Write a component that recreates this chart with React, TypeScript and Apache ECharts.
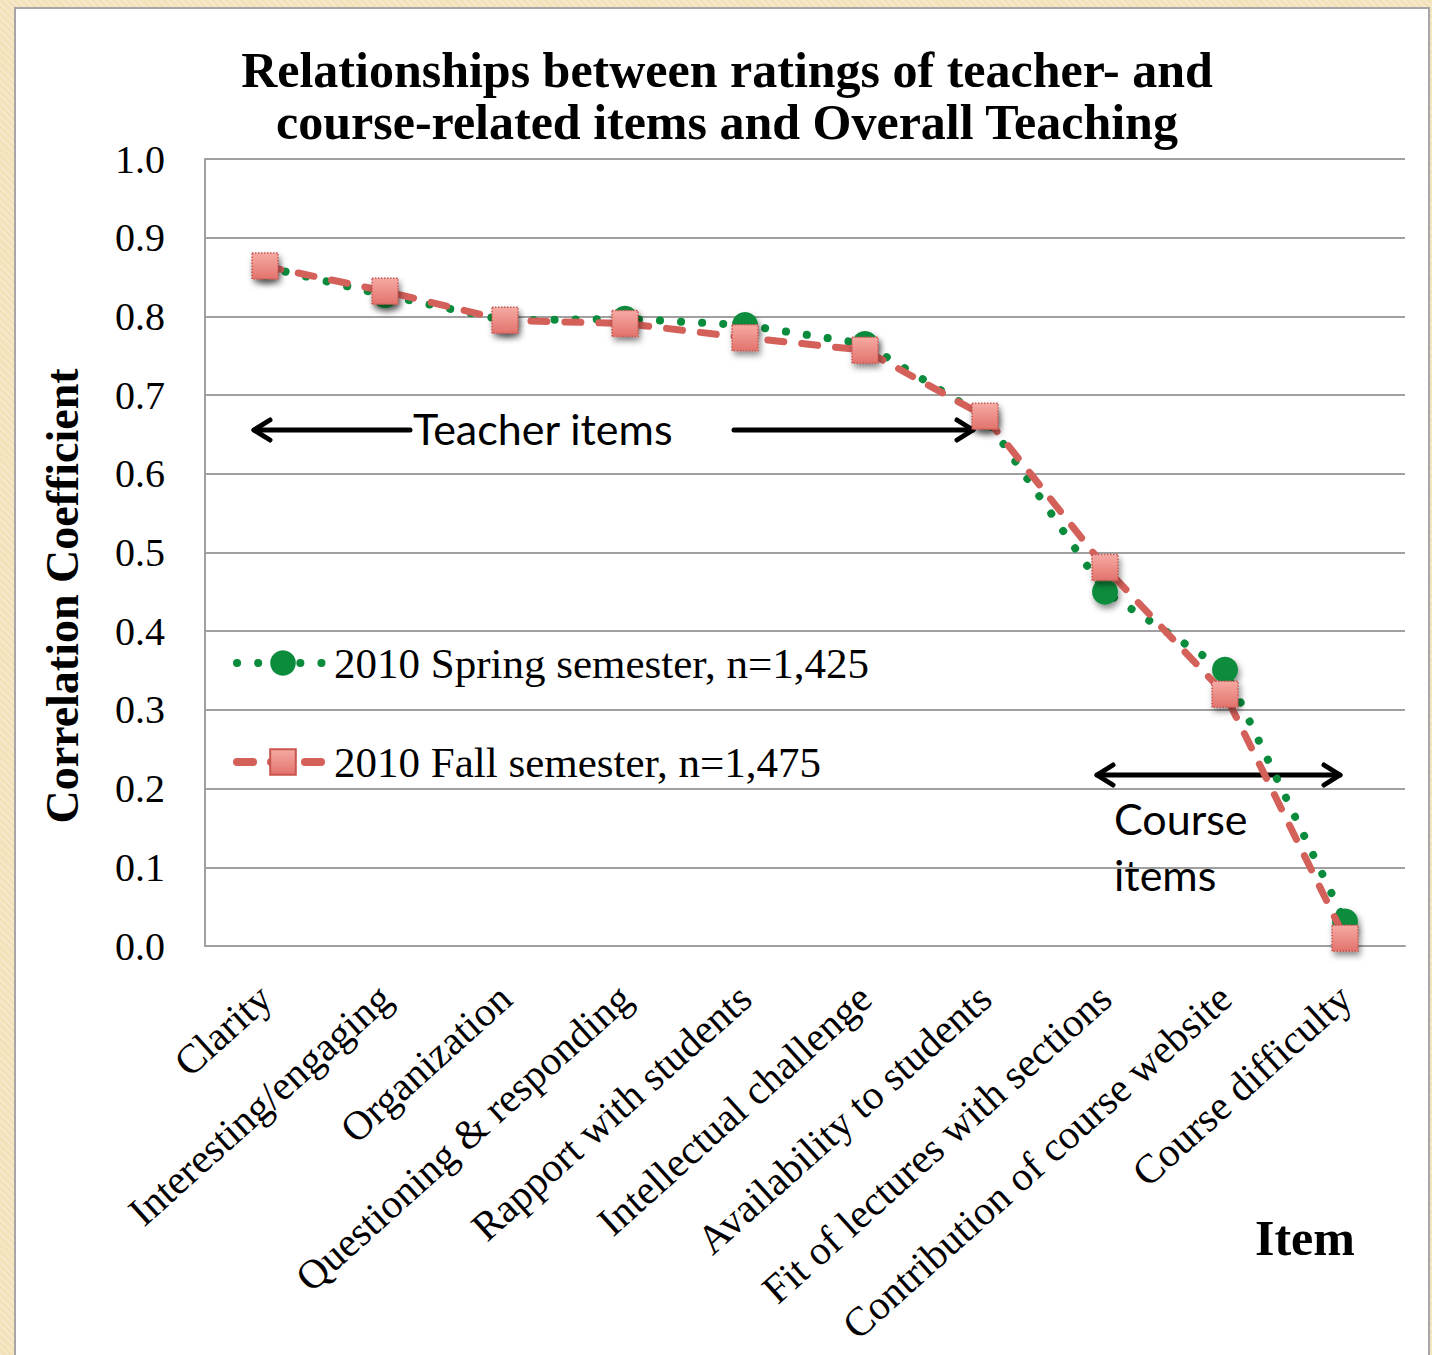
import React, { useEffect, useRef } from "react";
import * as echarts from "echarts";

const categories = [
  "Clarity",
  "Interesting/engaging",
  "Organization",
  "Questioning & responding",
  "Rapport with students",
  "Intellectual challenge",
  "Availability to students",
  "Fit of lectures with sections",
  "Contribution of course website",
  "Course difficulty",
];
const springValues = [0.863, 0.827, 0.795, 0.797, 0.789, 0.765, 0.672, 0.45, 0.351, 0.031];
const fallValues = [0.864, 0.832, 0.795, 0.791, 0.773, 0.757, 0.673, 0.481, 0.32, 0.01];
const yTicks = { min: 0, max: 1, interval: 0.1 };

const SERIF = "'Liberation Serif', 'Times New Roman', serif";
const SANS = "Lato, 'Open Sans', sans-serif";

export default function App() {
  const ref = useRef<HTMLDivElement>(null);
  useEffect(() => {
    document.body.style.margin = "0";
    if (!ref.current) return;
    const chart = echarts.init(ref.current, undefined, { renderer: "svg" });
    const arrowStyle = { stroke: "#000", lineWidth: 5, lineCap: "round" as const, lineJoin: "round" as const };
    const shadow = { shadowBlur: 6, shadowColor: "rgba(0,0,0,0.45)", shadowOffsetX: 2, shadowOffsetY: 4 };
    chart.setOption({
      animation: false,
      title: {
        text: "Relationships between ratings of teacher- and\ncourse-related items and Overall Teaching",
        left: 722,
        textAlign: "center",
        top: 39,
        textStyle: { fontFamily: SERIF, fontWeight: "bold", fontSize: 50, lineHeight: 52, color: "#000" },
      },
      grid: { left: 205, right: 27, top: 159, bottom: 409, containLabel: false, outerBoundsMode: "none" },
      legend: {
        orient: "vertical",
        left: 228,
        top: 636,
        itemWidth: 92,
        itemHeight: 32,
        itemGap: 55,
        lineStyle: { width: 8, cap: "round" },
        textStyle: { fontFamily: SERIF, fontSize: 43, color: "#000", lineHeight: 44 },
        data: ["2010 Spring semester, n=1,425", "2010 Fall semester, n=1,475"],
      },
      xAxis: {
        type: "category",
        data: categories,
        boundaryGap: true,
        axisLine: { show: true, lineStyle: { color: "#a0a0a0", width: 2 } },
        axisTick: { show: false },
        axisLabel: {
          interval: 0,
          rotate: 42,
          margin: 46,
          fontFamily: SERIF,
          fontSize: 41,
          color: "#000",
        },
      },
      yAxis: {
        type: "value",
        min: yTicks.min,
        max: yTicks.max,
        interval: yTicks.interval,
        axisLine: { show: true, lineStyle: { color: "#a0a0a0", width: 2 } },
        axisTick: { show: false },
        splitLine: { show: true, lineStyle: { color: "#a0a0a0", width: 2 } },
        axisLabel: {
          margin: 40,
          fontFamily: SERIF,
          fontSize: 40,
          color: "#000",
          formatter: (v: number) => v.toFixed(1),
        },
      },
      series: [
        {
          name: "2010 Spring semester, n=1,425",
          type: "line",
          data: springValues,
          symbol: "circle",
          symbolSize: 26,
          z: 2,
          lineStyle: { color: "#0a8c3c", width: 8, type: [0.1, 21], cap: "round" },
          itemStyle: { color: "#0a8c3c", ...shadow },
        },
        {
          name: "2010 Fall semester, n=1,475",
          type: "line",
          data: fallValues,
          symbol: "rect",
          symbolSize: 26,
          z: 3,
          lineStyle: { color: "#d4605a", width: 7, type: [16, 18], cap: "round" },
          itemStyle: {
            color: new echarts.graphic.LinearGradient(0, 0, 0, 1, [
              { offset: 0, color: "#f6aaa4" },
              { offset: 1, color: "#e2736c" },
            ]),
            borderColor: "#c9554f",
            borderWidth: 1.5,
            borderType: "dotted",
            ...shadow,
          },
        },
      ],
      graphic: [
        // y-axis title
        {
          type: "text",
          x: 62,
          y: 596,
          rotation: Math.PI / 2,
          style: {
            text: "Correlation Coefficient",
            font: `bold 46px ${SERIF}`,
            fill: "#000",
            textAlign: "center",
            textVerticalAlign: "middle",
          },
        },
        // Teacher items annotation
        { type: "line", shape: { x1: 254, y1: 430, x2: 410, y2: 430 }, style: arrowStyle },
        { type: "polyline", shape: { points: [[270, 420], [254, 430], [270, 440]] }, style: { ...arrowStyle, fill: "none" } },
        { type: "line", shape: { x1: 734, y1: 430, x2: 973, y2: 430 }, style: arrowStyle },
        { type: "polyline", shape: { points: [[957, 420], [973, 430], [957, 440]] }, style: { ...arrowStyle, fill: "none" } },
        {
          type: "text",
          x: 413,
          y: 428,
          style: { text: "Teacher items", font: `43px ${SANS}`, fill: "#000", textVerticalAlign: "middle" },
        },
        // Course items annotation
        { type: "line", shape: { x1: 1097, y1: 775, x2: 1340, y2: 775 }, style: arrowStyle },
        { type: "polyline", shape: { points: [[1113, 765], [1097, 775], [1113, 785]] }, style: { ...arrowStyle, fill: "none" } },
        { type: "polyline", shape: { points: [[1324, 765], [1340, 775], [1324, 785]] }, style: { ...arrowStyle, fill: "none" } },
        {
          type: "text",
          x: 1114,
          y: 790,
          style: { text: "Course\nitems", font: `43px ${SANS}`, fill: "#000", lineHeight: 56 },
        },
        // x-axis title
        {
          type: "text",
          x: 1255,
          y: 1213,
          style: { text: "Item", font: `bold 50px ${SERIF}`, fill: "#000" },
        },
      ],
    });
    return () => chart.dispose();
  }, []);

  return (
    <div style={{ position: "relative", width: 1432, height: 1355, overflow: "hidden", background: "#f3e2b9",
      backgroundImage: "repeating-linear-gradient(45deg, rgba(255,255,255,0.25) 0 2px, transparent 2px 5px)" }}>
      <div style={{ position: "absolute", left: 14, top: 7, width: 1412, height: 1400, background: "#fff",
        borderLeft: "2px solid #a6a6a6", borderTop: "2px solid #a6a6a6", borderRight: "2px solid #a6a6a6" }} />
      <div ref={ref} style={{ position: "absolute", left: 0, top: 0, width: 1432, height: 1355 }} />
    </div>
  );
}
